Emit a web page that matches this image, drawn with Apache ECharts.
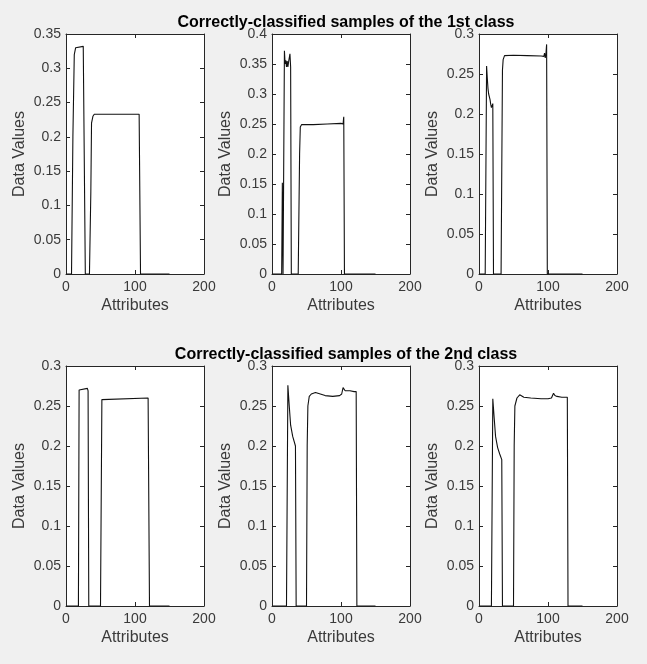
<!DOCTYPE html>
<html>
<head>
<meta charset="utf-8">
<script src="https://cdn.jsdelivr.net/npm/echarts@6/dist/echarts.min.js"></script>
<style>
  html, body { margin: 0; padding: 0; background: #f0f0f0; }
  #chart { width: 647px; height: 664px; }
</style>
</head>
<body>
<div id="chart"></div>
<script>
  // 标题
  const titles = [
    'Correctly-classified samples of the 1st class',
    'Correctly-classified samples of the 2nd class',
  ]

  // 第一类 样本 1
  const x1 = [1, 8, 10, 12, 14, 15, 25, 26, 27, 28, 34, 36, 37, 39, 41, 106, 107, 108, 150]
  const y1 = [0, 0, 0.2, 0.32, 0.33, 0.332, 0.332, 0.331, 0.33, 0, 0, 0.12, 0.22, 0.23, 0.233, 0.233, 0.232, 0, 0]

  // 第一类 样本 2
  const x2 = [1, 14, 15, 16, 18, 19, 20, 21, 22, 23, 24, 25, 26, 27, 28, 38, 40, 41, 42, 43, 44, 60, 80, 100, 101, 102, 103, 104, 105, 150]
  const y2 = [0, 0, 0.152, 0, 0.372, 0.35, 0.356, 0.345, 0.355, 0.345, 0.353, 0.35, 0.367, 0.345, 0, 0, 0.2, 0.245, 0.247, 0.249, 0.247, 0.249, 0.25, 0.251, 0.249, 0.253, 0.25, 0.262, 0, 0]

  // 第一类 样本 3
  const x3 = [1, 9, 11, 12, 13, 14, 16, 17, 18, 19, 20, 21, 32, 33, 34, 35, 37, 39, 50, 70, 90, 94, 95, 96, 97, 98, 99, 150]
  const y3 = [0, 0, 0.26, 0.245, 0.232, 0.225, 0.218, 0.212, 0.208, 0.207, 0.213, 0, 0, 0.13, 0.255, 0.268, 0.273, 0.274, 0.2735, 0.273, 0.2725, 0.272, 0.276, 0.27, 0.275, 0.287, 0, 0]

  // 第二类 样本 1
  const x4 = [1, 18, 19, 20, 31, 32, 33, 50, 52, 53, 119, 120, 121, 150]
  const y4 = [0, 0, 0.27, 0.272, 0.272, 0.269, 0, 0, 0.258, 0.26, 0.26, 0.258, 0, 0]

  // 第二类 样本 2
  const x5 = [1, 21, 23, 25, 27, 30, 34, 35, 50, 51, 52, 54, 57, 60, 63, 70, 77, 88, 98, 101, 103, 104, 106, 113, 119, 122, 123, 150]
  const y5 = [0, 0, 0.276, 0.25, 0.226, 0.212, 0.2, 0, 0, 0.2, 0.25, 0.262, 0.265, 0.266, 0.267, 0.265, 0.263, 0.262, 0.263, 0.265, 0.273, 0.271, 0.269, 0.269, 0.268, 0.268, 0, 0]

  // 第二类 样本 3
  const x6 = [1, 18, 20, 22, 24, 27, 30, 33, 34, 50, 51, 52, 55, 59, 65, 75, 90, 100, 105, 108, 110, 113, 120, 128, 129, 150]
  const y6 = [0, 0, 0.259, 0.235, 0.212, 0.198, 0.19, 0.183, 0, 0, 0.2, 0.25, 0.26, 0.264, 0.261, 0.26, 0.259, 0.259, 0.26, 0.266, 0.263, 0.262, 0.261, 0.261, 0, 0]

  const samples = [[x1, y1], [x2, y2], [x3, y3], [x4, y4], [x5, y5], [x6, y6]]

  // 各子图 Y 轴范围
  const yMax = [0.35, 0.4, 0.3, 0.3, 0.3, 0.3]
  const yStep = 0.05
  const xMax = 200
  const xStep = 100

  // 子图位置
  const lefts = [66, 272, 479]
  const tops = [34, 366]
  const plotW = 138
  const plotH = 240

  const font = 'Liberation Sans, Arial, Helvetica, sans-serif'
  const ink = '#262626'
  const textInk = '#3a3a3a'

  const chart = echarts.init(document.getElementById('chart'))

  const grid = []
  const xAxis = []
  const yAxis = []
  const series = []

  samples.forEach((s, i) => {
    grid.push({
      left: lefts[i % 3],
      top: tops[Math.floor(i / 3)],
      width: plotW,
      height: plotH,
      show: true,
      backgroundColor: '#fff',
      borderWidth: 0,
    })
  })

  // 主坐标轴（下、左）
  samples.forEach((s, i) => {
    xAxis.push({
      type: 'value',
      gridIndex: i,
      min: 0,
      max: xMax,
      interval: xStep,
      name: 'Attributes',
      nameLocation: 'middle',
      nameGap: 24,
      nameTextStyle: { fontFamily: font, fontSize: 16, color: textInk },
      axisLine: { show: true, onZero: false, lineStyle: { color: ink, width: 1 } },
      axisTick: { show: true, inside: true, length: 4, lineStyle: { color: ink } },
      axisLabel: { fontFamily: font, fontSize: 14, color: textInk, margin: 6 },
      splitLine: { show: false },
    })
    yAxis.push({
      type: 'value',
      gridIndex: i,
      min: 0,
      max: yMax[i],
      interval: yStep,
      name: 'Data Values',
      nameLocation: 'middle',
      nameGap: 38,
      nameRotate: 90,
      nameTextStyle: { fontFamily: font, fontSize: 16, color: textInk },
      axisLine: { show: true, onZero: false, lineStyle: { color: ink, width: 1 } },
      axisTick: { show: true, inside: true, length: 4, lineStyle: { color: ink } },
      axisLabel: { fontFamily: font, fontSize: 14, color: textInk, margin: 5 },
      splitLine: { show: false },
    })
  })

  // 镜像坐标轴（上、右），只画框线和刻度
  samples.forEach((s, i) => {
    xAxis.push({
      type: 'value',
      gridIndex: i,
      position: 'top',
      min: 0,
      max: xMax,
      interval: xStep,
      axisLine: { show: true, onZero: false, lineStyle: { color: ink, width: 1 } },
      axisTick: { show: true, inside: true, length: 4, lineStyle: { color: ink } },
      axisLabel: { show: false },
      splitLine: { show: false },
    })
    yAxis.push({
      type: 'value',
      gridIndex: i,
      position: 'right',
      min: 0,
      max: yMax[i],
      interval: yStep,
      axisLine: { show: true, onZero: false, lineStyle: { color: ink, width: 1 } },
      axisTick: { show: true, inside: true, length: 4, lineStyle: { color: ink } },
      axisLabel: { show: false },
      splitLine: { show: false },
    })
  })

  samples.forEach(([xs, ys], i) => {
    series.push({
      type: 'line',
      xAxisIndex: i,
      yAxisIndex: i,
      data: xs.map((x, k) => [x, ys[k]]),
      showSymbol: false,
      lineStyle: { color: '#111', width: 1.1 },
      silent: true,
      animation: false,
    })
  })

  const option = {
    backgroundColor: '#f0f0f0',
    animation: false,
    title: titles.map((t, k) => ({
      text: t,
      left: 341,
      top: k === 0 ? 10 : 342,
      textAlign: 'center',
      textStyle: { fontFamily: font, fontSize: 16, fontWeight: 'bold', color: '#000' },
    })),
    grid,
    xAxis,
    yAxis,
    series,
  }

  chart.setOption(option)
</script>
</body>
</html>
